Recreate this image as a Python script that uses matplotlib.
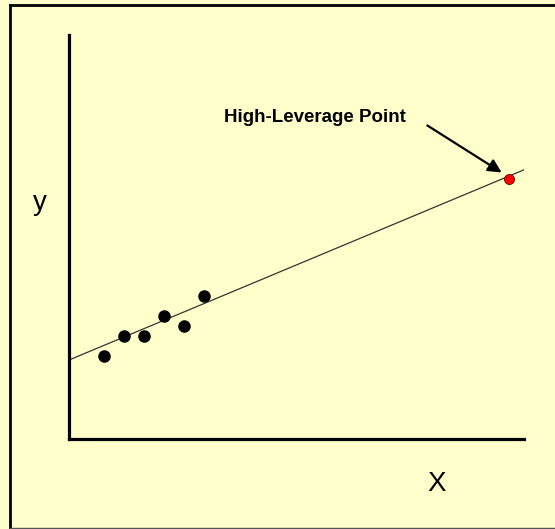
import numpy as np
import matplotlib.pyplot as plt
from matplotlib.lines import Line2D

# data
x_pts = [1.75, 2.75, 3.75, 4.75, 5.75, 6.75]
y_pts = [4.15, 5.15, 5.15, 6.15, 5.65, 7.15]
lev_x = [22.0]
lev_y = [13.0]
line_intercept = 3.95
line_slope = 0.418

bg = '#FFFFCC'
W, H = 555, 529

fig = plt.figure(figsize=(W / 100, H / 100), dpi=100, facecolor=bg)
ax = fig.add_axes([69 / W, (H - 439) / H, 455 / W, 404 / H])
ax.set_facecolor(bg)
ax.set_xlim(0, 22.75)
ax.set_ylim(0, 20.2)

for s in ['top', 'right']:
    ax.spines[s].set_visible(False)
for s in ['left', 'bottom']:
    ax.spines[s].set_linewidth(2.3)
    ax.spines[s].set_color('black')
ax.set_xticks([])
ax.set_yticks([])

# fitted line
xl = np.array([0, 22.75])
ax.plot(xl, line_intercept + line_slope * xl, color='#333333', lw=0.9, zorder=2)

ax.scatter(x_pts, y_pts, s=64, color='black', zorder=3)
ax.scatter(lev_x, lev_y, s=52, color='red', edgecolors='#660000', linewidths=0.6, zorder=3)

ax.text(12.3, 16.1, 'High-Leverage Point', ha='center', va='center',
        fontsize=13.5, fontweight='bold', family='Liberation Sans')
ax.annotate('', xy=(21.75, 13.25), xytext=(17.8, 15.75),
            arrowprops=dict(arrowstyle='-|>', color='black', lw=1.6, mutation_scale=20))

ax.text(-1.45, 11.8, 'y', ha='center', va='center', fontsize=20,
        family='Liberation Sans', clip_on=False)
ax.text(18.4, -2.25, 'X', ha='center', va='center', fontsize=20,
        family='Liberation Sans', clip_on=False)

# frame around the slide
fig.add_artist(Line2D([10 / W, 10 / W], [1.5 / H, (H - 5) / H], transform=fig.transFigure,
                      color='black', lw=2))
fig.add_artist(Line2D([10 / W, 1], [(H - 5) / H, (H - 5) / H], transform=fig.transFigure,
                      color='black', lw=2))
fig.add_artist(Line2D([10 / W, 1], [1.5 / H, 1.5 / H], transform=fig.transFigure,
                      color='#555555', lw=1))

fig.savefig('out.png', dpi=100, facecolor=bg)
